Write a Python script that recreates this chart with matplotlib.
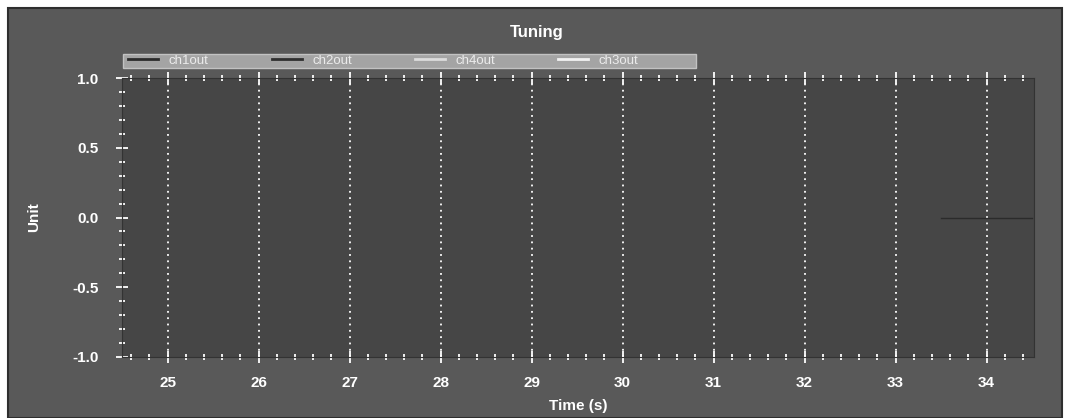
import matplotlib
matplotlib.use("Agg")
import matplotlib.pyplot as plt
from matplotlib.patches import Rectangle
from matplotlib.ticker import MultipleLocator

plt.rcParams["font.family"] = ["Liberation Sans", "DejaVu Sans"]

# Channel outputs over the tuning window (time in seconds, value in units)
series_names = ["ch1out", "ch2out", "ch4out", "ch3out"]
ch1out_t = [33.5, 34.5]
ch1out_v = [0.0, 0.0]
ch2out_t = []
ch2out_v = []
ch4out_t = []
ch4out_v = []
ch3out_t = []
ch3out_v = []
series_colors = ["#2b2b2b", "#2f2f2f", "#dcdcdc", "#f2f2f2"]

x_ticks = [25, 26, 27, 28, 29, 30, 31, 32, 33, 34]
y_ticks = [-1.0, -0.5, 0.0, 0.5, 1.0]
x_range = (24.5, 34.52)
y_range = (-1.0, 1.0)

W, H = 1071, 418
fig = plt.figure(figsize=(W / 100, H / 100), dpi=100)
fig.patch.set_facecolor("white")

# dark panel behind everything
fig.patches.append(Rectangle((8 / W, 0), (1062 - 8) / W, (H - 8) / H,
                             transform=fig.transFigure, facecolor="#595959",
                             edgecolor="#2e2e2e", linewidth=1.5, zorder=-10))

ax = fig.add_axes([122 / W, 1 - 357 / H, (1034 - 122) / W, (357 - 78) / H])
ax.set_facecolor("#464646")

data = [(ch1out_t, ch1out_v), (ch2out_t, ch2out_v),
        (ch4out_t, ch4out_v), (ch3out_t, ch3out_v)]
for name, (t, v), c in zip(series_names, data, series_colors):
    ax.plot(t, v, color=c, linewidth=1.0, label=name)

ax.set_xlim(*x_range)
ax.set_ylim(*y_range)
ax.set_xticks(x_ticks)
ax.set_yticks(y_ticks)
ax.xaxis.set_minor_locator(MultipleLocator(0.2))
ax.yaxis.set_minor_locator(MultipleLocator(0.1))
ax.set_yticklabels([f"{v:.1f}" for v in y_ticks])

ax.tick_params(axis="both", which="both", colors="white", top=True,
               right=False, direction="inout", labelsize=11)
ax.tick_params(axis="both", which="major", length=9, width=1.3)
ax.tick_params(axis="both", which="minor", length=4, width=1.3)
ax.tick_params(axis="x", which="major", pad=9)
ax.tick_params(axis="y", which="major", pad=12.5)
for lbl in ax.get_xticklabels() + ax.get_yticklabels():
    lbl.set_fontweight("bold")
    lbl.set_color("white")

ax.grid(axis="x", which="major", color="white", linestyle=(0, (1, 2.5)),
        linewidth=1.3)
ax.grid(axis="y", visible=False)

for sp in ax.spines.values():
    sp.set_color("#333333")
    sp.set_linewidth(0.8)

ax.set_xlabel("Time (s)", color="white", fontsize=11, fontweight="bold",
              labelpad=6.5)
ax.set_ylabel("Unit", color="white", fontsize=11, fontweight="bold",
              labelpad=22)

fig.text(537 / W, 1 - 33 / H, "Tuning", ha="center", va="center",
         color="white", fontsize=12, fontweight="bold")

# legend strip above the plot area
fig.patches.append(Rectangle((123 / W, 1 - 68 / H), (696 - 123) / W, 14 / H,
                             transform=fig.transFigure, facecolor="#a4a4a4",
                             edgecolor="#c2c2c2", linewidth=1.0, zorder=2))

leg_line_handles = [plt.Line2D([], [], color=c, linewidth=2.0)
                    for c in series_colors]
leg = fig.legend(leg_line_handles, series_names, loc="center left",
                 bbox_to_anchor=(125 / W, 1 - 61 / H), ncol=4, fontsize=9.5,
                 borderpad=0.0, borderaxespad=0.25, handlelength=2.27,
                 handletextpad=0.8, columnspacing=4.78, frameon=False,
                 labelcolor="#ececec")
leg.set_zorder(3)

fig.savefig("out.png", dpi=100, facecolor=fig.get_facecolor())
